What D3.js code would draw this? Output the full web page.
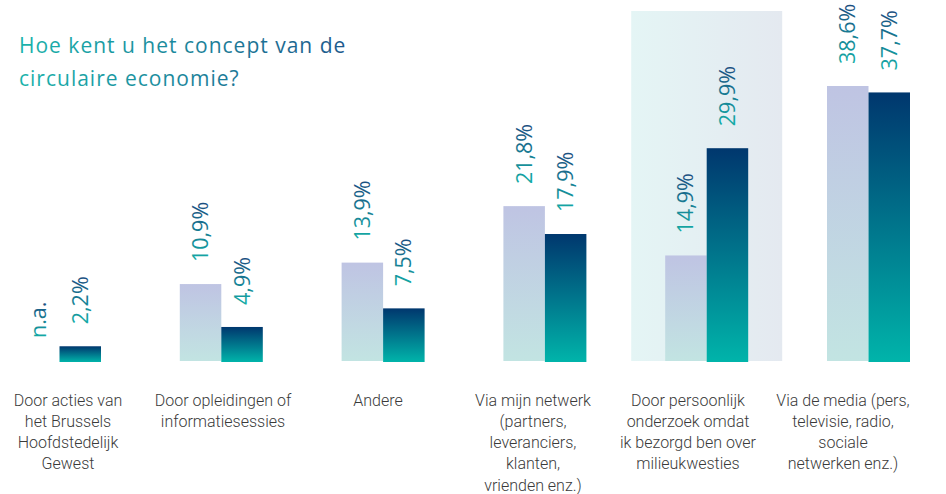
<!DOCTYPE html>
<html><head><meta charset="utf-8">
<script src="https://cdn.jsdelivr.net/npm/d3@7"></script>
<style>html,body{margin:0;padding:0;background:#fff;}svg{display:block;}</style>
</head><body>
<script>
const title = ["Hoe kent u het concept van de", "circulaire economie?"];
const categories = ["acties", "opleidingen", "andere", "netwerk", "onderzoek", "media"];
const categoryLines = [
  ["Door acties van", "het Brussels", "Hoofdstedelijk", "Gewest"],
  ["Door opleidingen of", "informatiesessies"],
  ["Andere"],
  ["Via mijn netwerk", "(partners,", "leveranciers,", "klanten,", "vrienden enz.)"],
  ["Door persoonlijk", "onderzoek omdat", "ik bezorgd ben over", "milieukwesties"],
  ["Via de media (pers,", "televisie, radio,", "sociale", "netwerken enz.)"]
];
const seriesA = [null, 10.9, 13.9, 21.8, 14.9, 38.6];
const seriesB = [2.2, 4.9, 7.5, 17.9, 29.9, 37.7];
const highlighted = "onderzoek";
const naLabel = "n.a.";

const W = 946, H = 494;
const svg = d3.select("body").append("svg").attr("width", W).attr("height", H);
const defs = svg.append("defs");

function lin(id, x2, y2, stops) {
  const g = defs.append("linearGradient").attr("id", id)
    .attr("x1", 0).attr("y1", 0).attr("x2", x2).attr("y2", y2);
  stops.forEach(([o, c]) => g.append("stop").attr("offset", o).attr("stop-color", c));
}
lin("gLight", 0, 1, [[0, "#bfc4e3"], [1, "#c2e4e2"]]);
lin("gDark", 0, 1, [[0, "#00376e"], [1, "#00b4aa"]]);
lin("gHi", 1, 0, [[0, "#e4f5f5"], [1, "#e4e9f0"]]);
lin("gText", 1, 0, [[0, "#13aea7"], [1, "#1b4d80"]]);
lin("gTitle", 1, 0, [[0, "#1ab3ab"], [1, "#1d5a8c"]]);

const x = d3.scalePoint().domain(categories).range([59.5, 868.5]);
const xl = d3.scalePoint().domain(categories).range([68, 843]);
const y = d3.scaleLinear().domain([0, 38.6]).range([362, 86]);
const bw = 41.5;
const fmt = v => d3.format(".1f")(v).replace(".", ",") + "%";

// highlight band
svg.append("rect")
  .attr("x", x(highlighted) - 75.5).attr("y", 11)
  .attr("width", 151).attr("height", y(0) - 12)
  .attr("fill", "url(#gHi)");

// title
const tt = svg.append("text").attr("fill", "url(#gTitle)")
  .style("font-family", "'Open Sans', sans-serif").style("font-size", "21px")
  .style("letter-spacing", "1px");
title.forEach((l, i) => tt.append("tspan").attr("x", 19).attr("y", 53 + i * 33).text(l));

const data = categories.map((c, i) => ({c, a: seriesA[i], b: seriesB[i]}));

// bars
svg.selectAll("rect.a").data(data.filter(d => d.a != null)).join("rect")
  .attr("x", d => x(d.c) - bw).attr("y", d => y(d.a))
  .attr("width", bw).attr("height", d => y(0) - y(d.a) - 1)
  .attr("fill", "url(#gLight)");
svg.selectAll("rect.b").data(data).join("rect")
  .attr("x", d => x(d.c)).attr("y", d => y(d.b))
  .attr("width", bw).attr("height", d => y(0) - y(d.b))
  .attr("fill", "url(#gDark)");

// value labels
function vlabel(cx, v, txt) {
  const top = (v == null ? y(0) - 2 : y(v)) - 22;
  svg.append("text")
    .attr("transform", `translate(${cx + 7.5},${top}) rotate(-90)`)
    .attr("fill", "url(#gText)")
    .style("font-family", "'Open Sans', sans-serif").style("font-size", "21.5px")
    .text(txt);
}
data.forEach(d => {
  vlabel(x(d.c) - bw / 2, d.a, d.a == null ? naLabel : fmt(d.a));
  vlabel(x(d.c) + bw / 2, d.b, fmt(d.b));
});

// category labels
data.forEach((d, i) => {
  const t = svg.append("text").attr("text-anchor", "middle").attr("fill", "#3a3a3a")
    .style("font-family", "Roboto, sans-serif").style("font-weight", 300).style("font-size", "16px");
  categoryLines[i].forEach((l, j) => t.append("tspan").attr("x", xl(d.c)).attr("y", 405.5 + j * 21.3).text(l));
});
</script>
</body></html>
